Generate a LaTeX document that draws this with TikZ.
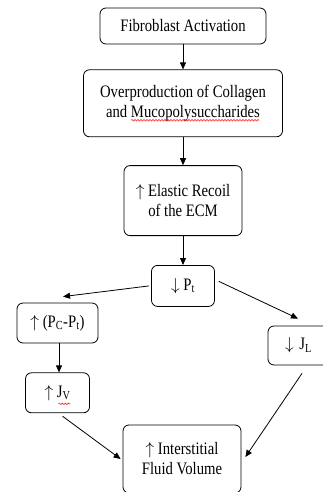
\documentclass[tikz,border=0pt]{standalone}
\usepackage{fontspec}
\setmainfont{Liberation Serif}[FakeStretch=0.84]
\usepackage{tikz}
\usetikzlibrary{positioning, arrows.meta, decorations.pathmorphing}

\begin{document}
\begin{tikzpicture}[
    x=1pt, y=-1pt,
    box/.style={draw, rounded corners=6pt, line width=0.8pt, inner sep=0pt,
                align=center, font=\fontsize{17.5}{20}\selectfont},
    arr/.style={-{Triangle[length=7pt, width=6pt]}, line width=0.8pt},
    spell/.style={red, line width=0.5pt, decorate,
                  decoration={snake, amplitude=0.8pt, segment length=3pt}}
  ]
    \useasboundingbox (0,0) rectangle (323,492);
    \clip (0,0) rectangle (323,492);
    % main column
    \node[box, minimum width=166pt, minimum height=36pt] (fib) at (183,26) {Fibroblast Activation};
    \node[box, minimum width=199pt, minimum height=67pt, below=25pt of fib] (over)
        {Overproduction of Collagen\\and Mucopolysuccharides};
    \node[box, minimum width=118pt, minimum height=70pt, below=28pt of over] (ecm)
        {$\uparrow$ Elastic Recoil\\of the ECM};
    \node[box, minimum width=63pt, minimum height=41pt, below=29pt of ecm] (pt)
        {$\downarrow$ P\textsubscript{t}};
    % side branches
    \node[box, minimum width=81pt, minimum height=40pt] (pcpt) at (57.5,323)
        {$\uparrow$ (P\textsubscript{C}-P\textsubscript{t})};
    \node[box, minimum width=64pt, minimum height=40pt, below=29pt of pcpt] (jv)
        {$\uparrow$ J\textsubscript{V}};
    \node[box, minimum width=62pt, minimum height=39pt, text width=54pt, align=left] (jl) at (299,345.5)
        {\hspace{13pt}$\downarrow$ J\textsubscript{L}};
    \node[box, minimum width=118pt, minimum height=68pt] (ifv) at (182,459)
        {$\uparrow$ Interstitial\\Fluid Volume};
    % spell-check marks
    \draw[spell] ([shift={(-52,17)}]over.center) -- ([shift={(76,17)}]over.center);
    \draw[spell] ([shift={(1,11)}]jv.center) -- ([shift={(13,11)}]jv.center);
    % Arrows
    \draw[arr] (fib) -- (over);
    \draw[arr] (over) -- (ecm);
    \draw[arr] (ecm) -- (pt);
    \draw[arr] ([xshift=-2pt]pt.west) -- ([xshift=5.5pt, yshift=6pt]pcpt.north);
    \draw[arr] ([xshift=4pt, yshift=4.5pt]pt.east) -- ([xshift=-1pt, yshift=7pt]jl.north);
    \draw[arr] ([xshift=1.5pt]pcpt.south) -- ([xshift=1.5pt]pcpt.south |- jv.north);
    \draw[arr] ([xshift=5pt, yshift=-3pt]jv.south) -- ([xshift=-2pt]ifv.west);
    \draw[arr] ([xshift=3pt, yshift=-8pt]jl.south) -- ([xshift=4pt, yshift=2pt]ifv.east);
  \end{tikzpicture}
\end{document}
